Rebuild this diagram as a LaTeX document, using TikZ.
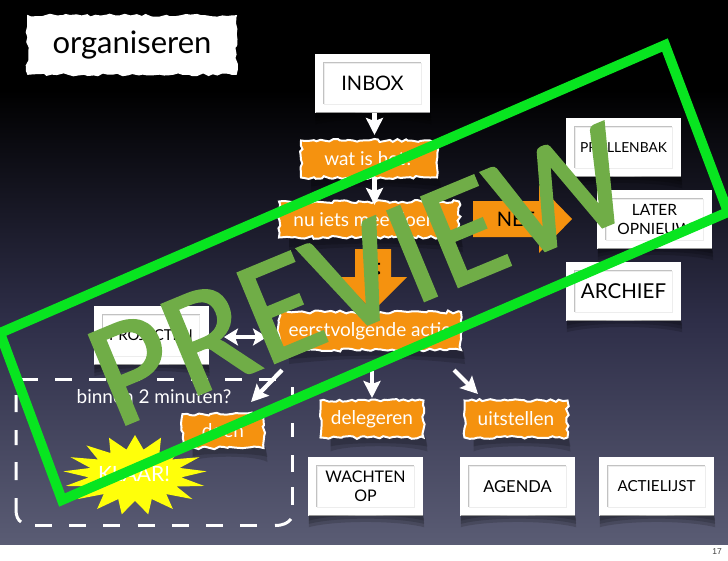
\documentclass[tikz,border=0pt]{standalone}
\usepackage{fontspec}
\setmainfont{Lato}
\newfontfamily\wmfont[RawFeature={embolden=1.2}]{Carlito}
\newfontfamily\numfont{Liberation Sans}
\usetikzlibrary{arrows.meta,decorations.pathmorphing,shapes.geometric,calc}
\definecolor{torn}{HTML}{F5920F}
\definecolor{wmgreen}{HTML}{70AD47}
\definecolor{framegreen}{HTML}{08E520}
\definecolor{burst}{HTML}{FFFF0A}
\definecolor{bgmid}{HTML}{2E2E48}
\definecolor{bgend}{HTML}{5A5C74}
\pgfmathsetseed{17}
\tikzset{
  x=1pt,y=-1pt,
  slide/.style={draw=none,fill=white,minimum width=115pt,minimum height=59pt,inner sep=0pt,align=center,text=black,font=\fontsize{16}{19}\selectfont},
  tornbox/.style={draw=white,line width=2pt,fill=torn,decorate,decoration={random steps,segment length=4pt,amplitude=1.5pt},inner sep=0pt,text=white,font=\fontsize{19}{21}\selectfont},
  conn/.style={draw=white,line width=4.2pt,-{Stealth[length=17pt,width=17pt,inset=3pt]}},
  connb/.style={draw=white,line width=4.2pt,{Stealth[length=14pt,width=17pt,inset=3pt]}-{Stealth[length=14pt,width=17pt,inset=3pt]}},
  shadowfill/.style={fill=black,opacity=.16},
  blocktext/.style={text=black,font=\fontsize{20}{22}\selectfont,inner sep=0pt},
  dashline/.style={draw=white,line width=3pt},
}
\newcommand{\boxshadow}[3]{% node, depth, left inset
  \foreach \d in {1,.7,.4}{
    \fill[shadowfill] ($(#1.south west)+(#3,-1)$) -- ($(#1.south east)+(0,-1)$) -- ($(#1.south east)+(1,#2*\d)$)
      .. controls ($(#1.south)+(30,#2*\d-7)$) and ($(#1.south)+(-30,#2*\d-7)$) .. ($(#1.south west)+(#3,#2*\d)$) -- cycle;
  }
}
\begin{document}
\begin{tikzpicture}
\useasboundingbox (0,0) rectangle (728,560);
% background
\fill[black] (0,0) rectangle (728,90);
\shade[top color=black,bottom color=bgmid] (0,90) rectangle (728,320);
\shade[top color=bgmid,bottom color=bgend] (0,320) rectangle (728,545);
\fill[white] (0,545) rectangle (728,560);
\node[font=\numfont\fontsize{8.5}{9}\selectfont,text=black!75,inner sep=0pt] (num) at (717,552) {17};
% dashed group
\foreach \k in {0,...,7}{ \draw[dashline] ({21+34*\k},379) -- ({38+34*\k},379); }
\foreach \k in {0,...,6}{ \draw[dashline] ({35+34.2*\k},525.5) -- ({52+34.2*\k},525.5); }
\draw[dashline] (275,525.5) .. controls (283,525.5) and (288,523) .. (291,519);
\draw[dashline] (292,387) -- (292,395) (292,423) -- (292,437) (292,455) -- (292,472) (292,487) -- (292,505);
\draw[dashline] (16,395) -- (16,412) (16,430) -- (16,445) (16,462) -- (16,480) (16,498) -- (16,510) .. controls (16,516) and (18,520) .. (21,522);
% boxes
\path
  node[slide,font=\fontsize{20}{22}\selectfont] (inbox) at (372.5,83.5) {INBOX}
  node[slide,font=\fontsize{13.8}{16}\selectfont] (prullen) at (623.5,147.5) {PRULLENBAK}
  node[slide,font=\fontsize{15.5}{19}\selectfont] (later) at (654.5,219.5) {LATER\\OPNIEUW}
  node[slide,font=\fontsize{20.5}{24}\selectfont] (archief) at (623.5,291.5) {ARCHIEF}
  node[slide,font=\fontsize{15}{19}\selectfont] (project) at (151,335.5) {PROJECTEN}
  node[slide,font=\fontsize{16}{19}\selectfont] (wachten) at (365.5,486.5) {WACHTEN\\OP}
  node[slide,font=\fontsize{16.5}{19}\selectfont] (agenda) at (517.5,486.5) {AGENDA}
  node[slide,font=\fontsize{15.2}{19}\selectfont] (actie) at (656.5,486.5) {ACTIELIJST};
\foreach \n in {inbox,prullen,later,archief,project,wachten,agenda,actie}{
  \boxshadow{\n}{11}{1}
  \draw[draw=black!7,line width=.6pt] ($(\n.south west)+(9,-9)$) rectangle ($(\n.north east)+(-9,9)$);
  \draw[draw=black!24,line width=.7pt] ($(\n.south west)+(9,-9)$) |- ($(\n.north east)+(-9,9)$);
}
% torn boxes
\foreach \n/\cx/\cy/\w/\h in {wat/369/158/136/37,nu/369/219/180/36,eerst/370/330/182/38,deleg/372/418/103/37,uit/515/418/103/37,doen/223/430/81/34}{
  \coordinate (s\n) at (\cx,\cy);
  \fill[shadowfill] ($(s\n)+(-\w/2+10,\h/2)$) -- ($(s\n)+(\w/2+2,\h/2)$) -- ($(s\n)+(\w/2+4,\h/2+15)$) .. controls ($(s\n)+(30,\h/2+7)$) and ($(s\n)+(-30,\h/2+9)$) .. ($(s\n)+(-\w/2+10,\h/2+15)$) -- cycle;
  \fill[shadowfill] ($(s\n)+(-\w/2+10,\h/2)$) -- ($(s\n)+(\w/2+2,\h/2)$) -- ($(s\n)+(\w/2+4,\h/2+10)$) .. controls ($(s\n)+(30,\h/2+5)$) and ($(s\n)+(-30,\h/2+6)$) .. ($(s\n)+(-\w/2+10,\h/2+10)$) -- cycle;
}
\node[tornbox,minimum width=136pt,minimum height=37pt] (wat) at (369,159) {wat is het?};
\node[tornbox,minimum width=180pt,minimum height=36pt] (nu) at (369,219.5) {nu iets mee doen?};
\node[tornbox,minimum width=182pt,minimum height=38pt] (eerst) at (370,331) {eerstvolgende actie};
\node[tornbox,minimum width=103pt,minimum height=37pt] (deleg) at (372,419) {delegeren};
\node[tornbox,minimum width=103pt,minimum height=37pt] (uit) at (516,419) {uitstellen};
\node[tornbox,minimum width=81pt,minimum height=34pt] (doen) at (223,431) {doen};
\node[draw=white,line width=1.6pt,fill=white,decorate,decoration={random steps,segment length=5pt,amplitude=1.5pt},inner sep=0pt,text=black,font=\fontsize{31}{33}\selectfont,minimum width=208pt,minimum height=58pt] (title) at (132,45) {organiseren};
% block arrows
\fill[torn] (473,201) -- (539,201) -- (539,185) -- (572,219) -- (539,253) -- (539,237) -- (473,237) -- cycle;
\node[blocktext] (nee) at (516,219) {NEE};
\fill[torn] (355,249) -- (391,249) -- (391,277) -- (407,277) -- (373,311) -- (339,277) -- (355,277) -- cycle;
\node[blocktext,rotate=-90] (ja) at (373,269) {JA};
% connectors
\coordinate (a1) at (374.5,113);
\coordinate (a2) at (374.5,135);
\coordinate (a3) at (374.5,177);
\coordinate (a4) at (374.5,205);
\draw[conn] (a1) -- (a2);
\draw[conn] (a3) -- (a4);
\coordinate (b1) at (224,337);
\coordinate (b2) at (267,337);
\draw[connb] (b1) -- (b2);
\coordinate (c1) at (282,370);
\coordinate (c2) at (251,402);
\draw[conn] (c1) -- (c2);
\coordinate (d1) at (372,371);
\coordinate (d2) at (372,398);
\draw[conn] (d1) -- (d2);
\coordinate (e1) at (454,370);
\coordinate (e2) at (478,394);
\draw[conn] (e1) -- (e2);
% text in group
\node[text=white,font=\fontsize{19}{21}\selectfont,inner sep=0pt] (binnen) at (154,397) {binnen 2 minuten?};
\node[star,star points=17,star point ratio=1.55,fill=burst,minimum size=80pt,inner sep=0pt,xscale=1.8] (klaarburst) at (135,475) {};
\node[text=white,font=\fontsize{21}{23}\selectfont,inner sep=0pt] (klaar) at (134,474) {KLAAR!};
% watermark
\draw[framegreen,line width=10pt,miter limit=10] (0,333) -- (665,45) -- (728,212) -- (62,500) -- cycle;
\node[text=wmgreen,font=\wmfont\fontsize{152}{154}\selectfont,inner sep=0pt,rotate=22.5,anchor=base] (wm) at (379,320) {PREVIEW};
\end{tikzpicture}
\end{document}
